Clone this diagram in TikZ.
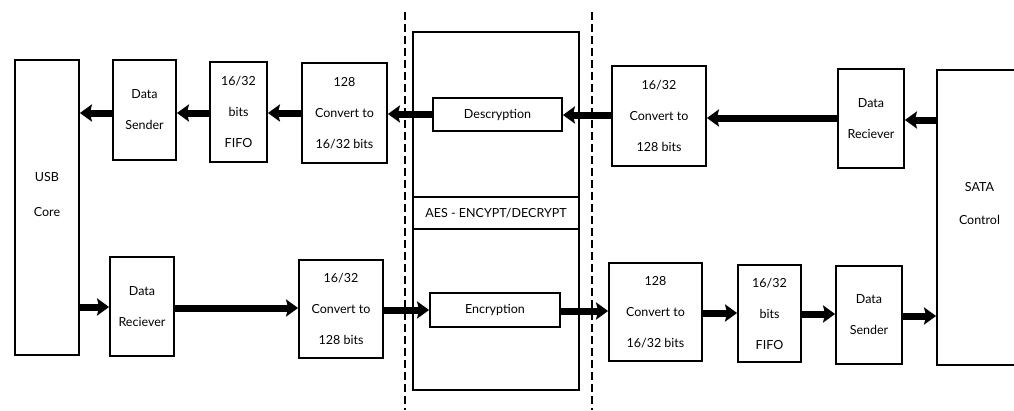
\documentclass[tikz,border=0pt]{standalone}
\usepackage{fontspec}
\setmainfont{Lato}
\usetikzlibrary{arrows.meta}
\begin{document}
\begin{tikzpicture}[x=1pt,y=-1pt,
  blk/.style={draw=black,line width=1.8pt,inner sep=0pt,align=center,
    font=\fontsize{12.5}{31}\selectfont},
  arr/.style={line width=7pt,-{Stealth[length=12pt,width=17pt,inset=2pt]}},
  sep/.style={line width=1.8pt,dash pattern=on 8pt off 4pt}]
\useasboundingbox (0,0) rectangle (1014,410);
\clip (0,0) rectangle (1014,410);
% dashed separators
\draw[sep] (405,12) -- (405,410);
\draw[sep] (592,12) -- (592,410);
% AES block
\node[blk,minimum width=166pt,minimum height=358pt] (aes) at (496,211) {};
\node[blk,minimum width=166pt,minimum height=32pt] (band) at (496,213)
  {AES - ENCYPT/DECRYPT};
\node[blk,fill=white,minimum width=129pt,minimum height=33pt] (desc) at (497.5,114.5) {Descryption};
\node[blk,fill=white,minimum width=130pt,minimum height=34pt] (enc) at (495,310) {Encryption};
% left side
\node[blk,minimum width=64pt,minimum height=295pt,
  label={[align=center,yshift=13pt,font=\fontsize{12.5}{35}\selectfont]center:USB\\Core}] (usb) at (47,207.5) {};
\node[blk,minimum width=63pt,minimum height=100pt] (dsT) at (144.5,110) {Data\\Sender};
\node[blk,minimum width=57pt,minimum height=100pt] (fifoT) at (238.5,112) {16/32\\bits\\FIFO};
\node[blk,minimum width=85pt,minimum height=100pt] (convT) at (344.5,113) {128\\Convert to\\16/32 bits};
\node[blk,minimum width=64pt,minimum height=99pt] (drB) at (142,306.5) {Data\\Reciever};
\node[blk,minimum width=84pt,minimum height=98pt] (convB) at (341,309) {16/32\\Convert to\\128 bits};
% right side
\node[blk,minimum width=94pt,minimum height=100pt] (convTR) at (659,116) {16/32\\Convert to\\128 bits};
\node[blk,minimum width=66pt,minimum height=99pt] (drTR) at (871,118.5) {Data\\Reciever};
\node[blk,minimum width=85pt,minimum height=295pt,
  label={[align=center,xshift=0pt,yshift=14pt,font=\fontsize{12.5}{33}\selectfont]center:SATA\\Control}] (sata) at (979.5,217.5) {};
\node[blk,minimum width=93pt,minimum height=98pt] (convBR) at (655.5,312) {128\\Convert to\\16/32 bits};
\node[blk,minimum width=63pt,minimum height=97pt] (fifoBR) at (769.5,313.5) {16/32\\bits\\FIFO};
\node[blk,minimum width=66pt,minimum height=98pt] (dsBR) at (869,315) {Data\\Sender};
% top path (right to left)
\draw[arr] (sata.west |- 0,120) -- (drTR.east |- 0,120);
\draw[arr] (drTR.west |- 0,118) -- (convTR.east |- 0,118);
\draw[arr] (convTR.west |- 0,115) -- (desc.east |- 0,115);
\draw[arr] (desc.west |- 0,114) -- (convT.east |- 0,114);
\draw[arr] (convT.west |- 0,113) -- (fifoT.east |- 0,113);
\draw[arr] (fifoT.west |- 0,113) -- (dsT.east |- 0,113);
\draw[arr] (dsT.west |- 0,113) -- (usb.east |- 0,113);
% bottom path (left to right)
\draw[arr] (usb.east |- 0,307) -- (drB.west |- 0,307);
\draw[arr] (drB.east |- 0,308) -- (convB.west |- 0,308);
\draw[arr] (convB.east |- 0,310) -- (enc.west |- 0,310);
\draw[arr] (enc.east |- 0,311) -- (convBR.west |- 0,311);
\draw[arr] (convBR.east |- 0,313) -- (fifoBR.west |- 0,313);
\draw[arr] (fifoBR.east |- 0,314) -- (dsBR.west |- 0,314);
\draw[arr] (dsBR.east |- 0,316) -- (sata.west |- 0,316);
\end{tikzpicture}
\end{document}
